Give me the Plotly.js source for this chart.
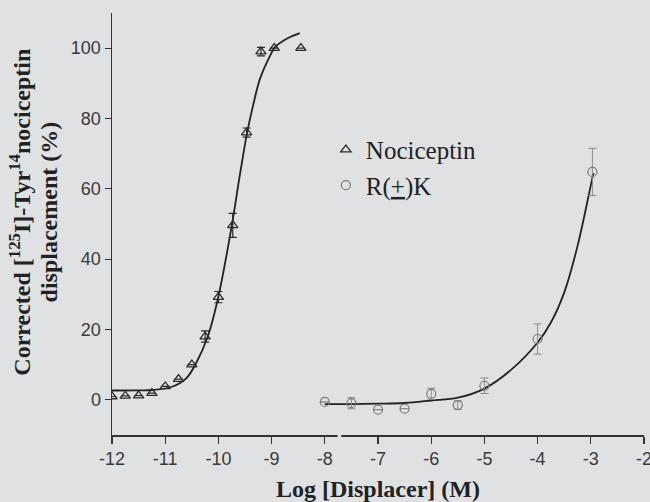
<!DOCTYPE html>
<html>
<head>
<meta charset="utf-8">
<script src="https://cdn.plot.ly/plotly-3.0.1.min.js"></script>
<style>
  html, body { margin: 0; padding: 0; background: #dfe1e3; }
  #chart { width: 650px; height: 502px; }
</style>
</head>
<body>
<div id="chart"></div>
<script>
// Nociceptin data points (log M, % displacement)
var nocX   = [-12, -11.75, -11.5, -11.25, -11, -10.75, -10.5, -10.25, -10, -9.73, -9.47, -9.2, -8.95, -8.45];
var nocY   = [0.95, 1.1, 1.2, 1.9, 3.8, 5.9, 10, 18, 29.2, 49.6, 76, 99, 100, 100];
var nocErr = [0, 0, 0, 0, 0, 0, 0, 1.6, 1.6, 3.4, 1.3, 1.2, 0, 0];

// Nociceptin fitted curve
var nocFitX = [-12, -11.5, -11.23, -10.86, -10.6, -10.42, -10.2, -10.0, -9.75, -9.6, -9.46, -9.35, -9.22, -9.03, -8.94, -8.7, -8.47];
var nocFitY = [2.65, 2.7, 2.8, 3.8, 6.2, 10.4, 18, 29.4, 49.4, 63.6, 76, 83.6, 91.2, 97.8, 100.2, 102.8, 104.3];

// R(±)K data points
var rkX   = [-8, -7.5, -7, -6.5, -6, -5.5, -5, -4, -2.97];
var rkY   = [-0.6, -0.95, -2.8, -2.5, 1.7, -1.5, 4.0, 17.3, 64.8];
var rkErr = [0, 1.6, 0, 0, 1.6, 1.2, 2.2, 4.3, 6.7];

// R(±)K fitted curve
var rkFitX = [-8, -7.5, -7, -6.5, -6, -5.5, -5, -4.5, -4, -3.75, -3.5, -3.25, -3, -2.95];
var rkFitY = [-1.2, -1.2, -1.1, -0.9, -0.2, 0.6, 3.2, 8.5, 16.3, 22, 30.5, 43.7, 61, 64.5];

// Axis ticks
var xTicks = [-12, -11, -10, -9, -8, -7, -6, -5, -4, -3, -2];
var yTicks = [0, 20, 40, 60, 80, 100];

var bg = '#dfe1e3';
var serif = '"Liberation Serif", "Times New Roman", serif';
var sans = '"Liberation Sans", Arial, sans-serif';

var traces = [
  { x: nocFitX, y: nocFitY, mode: 'lines', line: {color: '#222', width: 1.8, shape: 'spline'},
    showlegend: false, hoverinfo: 'skip' },
  { x: rkFitX, y: rkFitY, mode: 'lines', line: {color: '#222', width: 1.8, shape: 'spline'},
    showlegend: false, hoverinfo: 'skip' },
  { x: nocX, y: nocY, mode: 'markers', name: 'Nociceptin',
    marker: {symbol: 'triangle-up-open', size: 9, color: '#2a2a2a', line: {width: 1.3, color: '#2a2a2a'}},
    error_y: {type: 'data', array: nocErr, visible: true, color: '#2a2a2a', thickness: 1.2, width: 4} },
  { x: rkX, y: rkY, mode: 'markers', name: 'R(<u>+</u>)K',
    marker: {symbol: 'circle-open', size: 9, color: '#7a7a7a', line: {width: 1.2, color: '#7a7a7a'}},
    error_y: {type: 'data', array: rkErr, visible: true, color: '#8a8a8a', thickness: 1, width: 4} }
];

var layout = {
  width: 650, height: 502,
  margin: {l: 112, r: 6, t: 13, b: 67},
  paper_bgcolor: bg, plot_bgcolor: bg,
  showlegend: true,
  legend: {x: 0.402, xanchor: 'left', y: 0.73, yanchor: 'top', bgcolor: 'rgba(0,0,0,0)',
           font: {family: serif, size: 25, color: '#222'}, tracegroupgap: 0},
  xaxis: {
    range: [-12, -2], tickvals: xTicks, ticktext: xTicks.map(String),
    showgrid: false, zeroline: false, showline: true, linecolor: '#333', linewidth: 1.5,
    ticks: 'outside', ticklen: 7, tickwidth: 1.3, tickcolor: '#333',
    ticklabeloverflow: 'allow',
    tickfont: {family: sans, size: 18, color: '#3a3a3a'}
  },
  yaxis: {
    range: [-10, 110], tickvals: yTicks, ticktext: yTicks.map(String),
    showgrid: false, zeroline: false, showline: true, linecolor: '#333', linewidth: 1.5,
    ticks: 'outside', ticklen: 6, tickwidth: 1.3, tickcolor: '#333',
    tickfont: {family: sans, size: 18, color: '#3a3a3a'}
  },
  shapes: [
    {type: 'rect', xref: 'x', yref: 'paper', x0: -7.76, x1: -7.69, y0: -0.01, y1: 0.01,
     fillcolor: bg, line: {width: 0}, layer: 'above'}
  ],
  annotations: [
    {text: '<b>Log [Displacer] (M)</b>', xref: 'paper', yref: 'paper', x: 0.5, y: -0.128,
     xanchor: 'center', yanchor: 'middle', showarrow: false,
     font: {family: serif, size: 24, color: '#222'}},
    {text: '<b>Corrected [<sup>125</sup>I]-Tyr<sup>14</sup>nociceptin</b>', xref: 'paper', yref: 'paper',
     x: -0.172, y: 0.528, xanchor: 'center', yanchor: 'middle', textangle: -90, showarrow: false,
     font: {family: serif, size: 24, color: '#222'}},
    {text: '<b>displacement (%)</b>', xref: 'paper', yref: 'paper',
     x: -0.118, y: 0.528, xanchor: 'center', yanchor: 'middle', textangle: -90, showarrow: false,
     font: {family: serif, size: 24, color: '#222'}}
  ]
};

Plotly.newPlot('chart', traces, layout, {displayModeBar: false, staticPlot: true});
</script>
</body>
</html>
